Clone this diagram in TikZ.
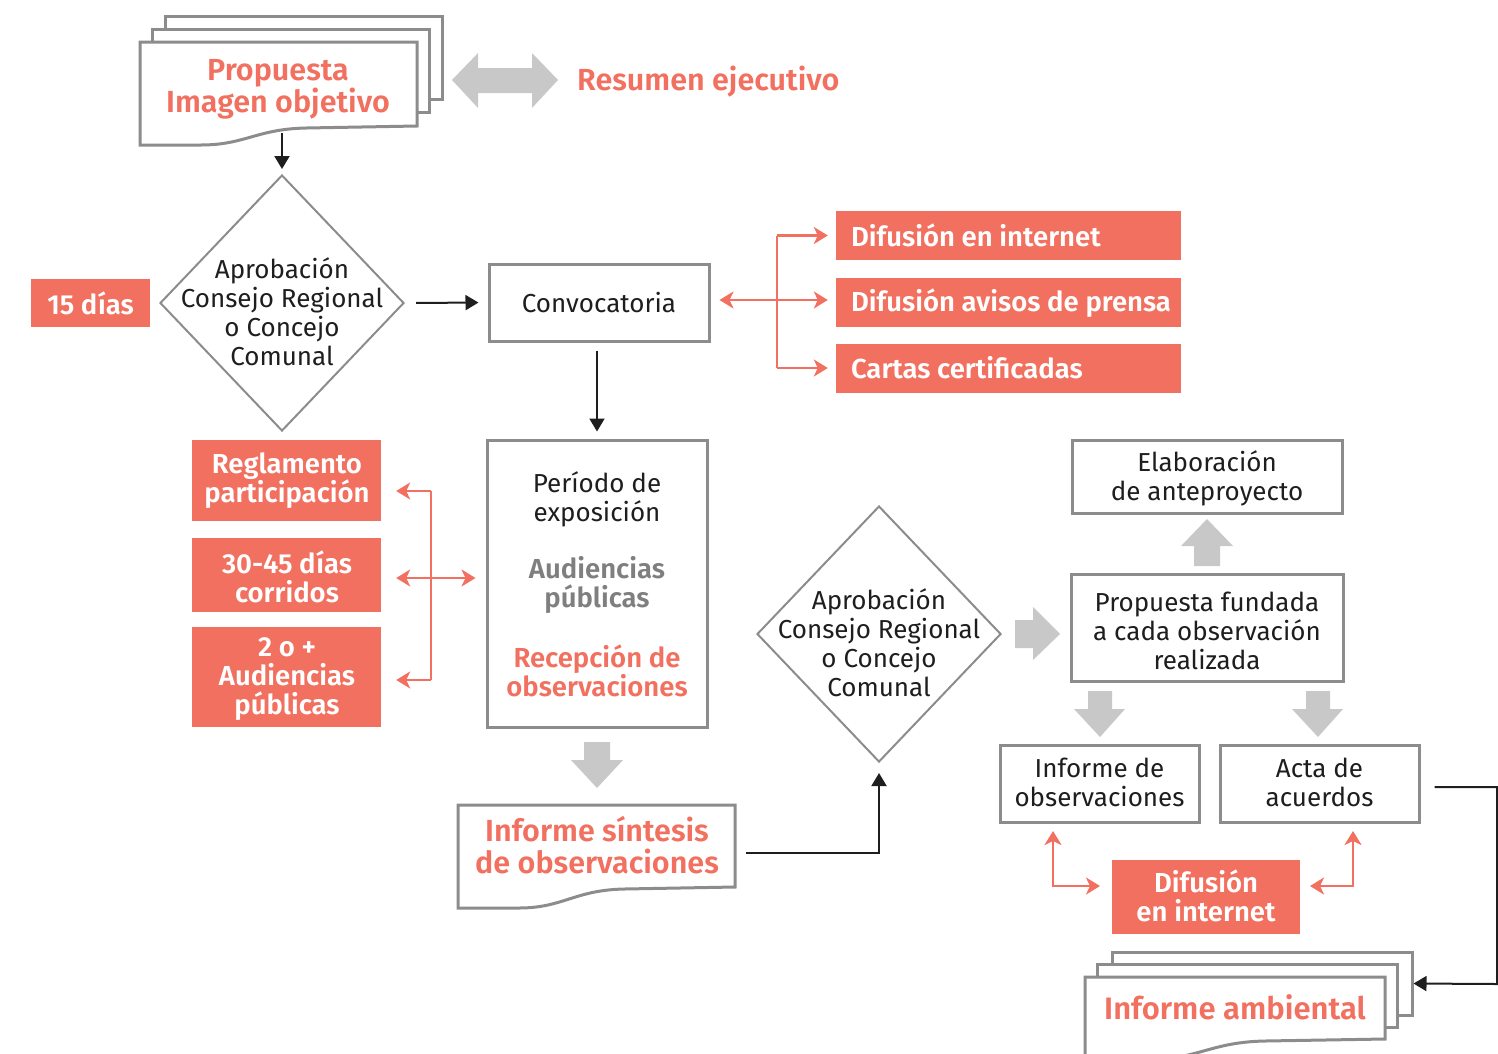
\documentclass[tikz,border=0pt]{standalone}
\usepackage{fontspec}
\setmainfont{Fira Sans}[BoldFont={Fira Sans SemiBold}]
\usetikzlibrary{shapes.geometric,arrows.meta,calc}
\definecolor{sal}{HTML}{F2705F}
\definecolor{bord}{HTML}{8C8C8C}
\definecolor{garr}{HTML}{C8C8C8}
\definecolor{ink}{HTML}{1E1E1E}
\definecolor{gtxt}{HTML}{7F7F7F}
\newcommand{\docshape}[5]{%
  \path[doc] (#1,#2) -- (#1+#3,#2) -- (#1+#3,#2+#4-#5) -- (#1+0.6*#3,#2+#4-#5+2)
    .. controls (#1+0.42*#3,#2+#4-#5+3) and (#1+0.38*#3,#2+#4) .. (#1+0.22*#3,#2+#4)
    -- (#1,#2+#4) -- cycle;}
\begin{document}
\begin{tikzpicture}[x=1pt,y=-1pt,
  bt/.tip={Triangle[length=13pt,width=15pt]},
  rt/.tip={Stealth[length=14pt,width=17pt,inset=4pt]},
  txt/.style={font=\fontsize{26}{29}\selectfont, text=ink, align=center, inner sep=0pt},
  btxt/.style={font=\fontsize{27.5}{29}\selectfont\bfseries, align=center, inner sep=0pt},
  big/.style={font=\fontsize{30.5}{32}\selectfont\bfseries, text=sal, align=center, inner sep=0pt},
  gbox/.style={draw=bord, line width=3pt, fill=white, inner sep=0pt},
  sbox/.style={fill=sal, text=white, inner sep=0pt},
  dia/.style={draw=bord, line width=2pt, fill=white, diamond, minimum width=244pt, minimum height=256pt, inner sep=0pt},
  blk/.style={draw=ink, line width=2pt, -bt},
  rarr/.style={draw=sal, line width=2.5pt, -rt},
  rdarr/.style={draw=sal, line width=2.5pt, rt-rt},
  rline/.style={draw=sal, line width=2.5pt},
  doc/.style={draw=bord, line width=3pt, fill=white, line join=miter},
  gshape/.style={fill=garr},
]
\useasboundingbox (0,0) rectangle (1498,1053);
\clip (0,0) rectangle (1498,1053);

% ---- Propuesta document stack
\node[gbox, minimum width=277pt, minimum height=83pt] (p3) at (303.5,57.5) {};
\node[gbox, minimum width=277pt, minimum height=83pt] (p2) at (290.5,70.5) {};
\docshape{140}{42}{277}{103}{19}
\node[big] (prop) at (278,89) {Propuesta\\Imagen objetivo};
\coordinate (propb) at (282,133);

% gray double arrow
\path[gshape] (452,80) -- (478,53) -- (478,68) -- (532,68) -- (532,53) -- (558,80)
  -- (532,108) -- (532,93) -- (478,93) -- (478,108) -- cycle;
\node[big, anchor=west] (res) at (577,82) {Resumen ejecutivo};

% ---- Diamond 1
\node[dia] (d1) at (282,303) {};
\node[txt] (d1t) at (282,312) {Aprobación\\Consejo Regional\\o Concejo\\Comunal};
\node[sbox, minimum width=119pt, minimum height=48pt, btxt, text=white] (d15) at (90.5,303) {15 días};

% ---- Convocatoria
\node[gbox, minimum width=220pt, minimum height=77pt, txt] (conv) at (599,302.5) {Convocatoria};

% ---- Difusion boxes
\node[sbox, minimum width=345pt, minimum height=49pt] (dif1) at (1008.5,235.5) {};
\node[sbox, minimum width=345pt, minimum height=49pt] (dif2) at (1008.5,302.5) {};
\node[sbox, minimum width=345pt, minimum height=49pt] (dif3) at (1008.5,368) {};
\node[btxt, text=white, anchor=west] at ($(dif1.west)+(15,0)$) {Difusión en internet};
\node[btxt, text=white, anchor=west] at ($(dif2.west)+(15,1)$) {Difusión avisos de prensa};
\node[btxt, text=white, anchor=west] at ($(dif3.west)+(15,0)$) {Cartas certificadas};

% ---- Periodo box
\node[gbox, minimum width=220pt, minimum height=287pt] (per) at (597,583.5) {};
\node[txt] at (597,499) {Período de\\exposición};
\node[btxt, text=gtxt] at (597,585) {Audiencias\\públicas};
\node[btxt, text=sal] at (597,671) {Recepción de\\observaciones};

% ---- Left salmon boxes
\node[sbox, minimum width=189pt, minimum height=81pt] (reg) at (286.5,480.5) {};
\node[btxt, text=white] at (287,481) {Reglamento\\participación};
\node[sbox, minimum width=189pt, minimum height=74pt] (corr) at (286.5,575) {};
\node[btxt, text=white] at (287,577) {30-45 días\\corridos};
\node[sbox, minimum width=189pt, minimum height=100pt] (aud) at (286.5,677) {};
\node[btxt, text=white] at (287,679) {2 o +\\Audiencias\\públicas};

% gray down arrow
\path[gshape] (584,742) -- (610,742) -- (610,760) -- (623,760) -- (597,788) -- (571,760) -- (584,760) -- cycle;

% ---- Informe sintesis
\docshape{458}{805}{277}{103}{21}
\node[big] (sint) at (597,845) {Informe síntesis\\de observaciones};
\coordinate (sinte) at (735,853);

% ---- Diamond 2
\node[dia] (d2) at (879,634) {};
\node[txt] at (879,643) {Aprobación\\Consejo Regional\\o Concejo\\Comunal};

% gray right arrow
\path[gshape] (1015,620) -- (1033,620) -- (1033,607) -- (1060,634) -- (1033,660) -- (1033,648) -- (1015,648) -- cycle;

% ---- right boxes
\node[gbox, minimum width=270pt, minimum height=73pt] (elab) at (1207,476.5) {};
\node[txt] at (1207,478) {Elaboración\\de anteproyecto};
\node[gbox, minimum width=272pt, minimum height=107pt] (fund) at (1207,627.5) {};
\node[txt] at (1207,631) {Propuesta fundada\\a cada observación\\realizada};
\node[gbox, minimum width=199pt, minimum height=77pt] (obs) at (1099.5,783.5) {};
\node[txt] at (1099.5,782) {Informe de\\observaciones};
\node[gbox, minimum width=199pt, minimum height=77pt] (acta) at (1319.5,783.5) {};
\node[txt] at (1319.5,782) {Acta de\\acuerdos};

% gray up arrow
\path[gshape] (1194,566) -- (1220,566) -- (1220,546) -- (1233,546) -- (1207,519) -- (1181,546) -- (1194,546) -- cycle;
% gray down arrows
\path[gshape] (1088,691) -- (1112,691) -- (1112,709) -- (1125,709) -- (1100,737) -- (1074,709) -- (1088,709) -- cycle;
\path[gshape] (1306,691) -- (1330,691) -- (1330,709) -- (1343,709) -- (1318,737) -- (1292,709) -- (1306,709) -- cycle;

% ---- Difusion en internet (bottom)
\node[sbox, minimum width=188pt, minimum height=74pt] (difb) at (1206,897) {};
\node[btxt, text=white] at (1206,896) {Difusión\\en internet};

% ---- Informe ambiental stack
\node[gbox, minimum width=300pt, minimum height=63pt] (amb3) at (1262,983.5) {};
\node[gbox, minimum width=300pt, minimum height=63pt] (amb2) at (1247,995.5) {};
\docshape{1085}{977}{300}{82}{20}
\node[big, font=\fontsize{31}{32}\selectfont\bfseries] (amb) at (1235,1007) {Informe ambiental};

% ---- black connectors
\draw[blk, shorten >=5pt] (propb) -- (d1.north);
\draw[blk, shorten <=11pt, shorten >=9pt] (d1.east) -- (conv.west);
\draw[blk, shorten <=8pt, shorten >=7pt] (per.north |- conv.south) -- (per.north);
\draw[blk, shorten <=11pt, shorten >=10pt] (sinte) -| (d2.south);
\draw[blk, shorten <=14pt] (acta.east |- 0,787) -- (1497,787) -- (1497,984) -- (amb3.east);

% ---- red connectors top
\coordinate (rj) at (777,0);
\draw[rline] (rj |- dif1.west) -- (rj |- dif3.west);
\draw[rarr, shorten >=8pt] (rj |- dif1.west) -- (dif1.west);
\draw[rarr, shorten >=8pt] (rj |- dif3.west) -- (dif3.west);
\draw[rdarr, shorten <=9pt, shorten >=8pt] (conv.east |- 0,300) -- (dif2.west |- 0,300);

% ---- red connectors left
\coordinate (lj) at (431,0);
\draw[rline] (431,491) -- (431,680);
\draw[rarr, shorten >=15pt] (431,491) -- (reg.east |- 0,491);
\draw[rarr, shorten >=15pt] (431,680) -- (aud.east |- 0,680);
\draw[rdarr, shorten <=15pt, shorten >=10pt] (corr.east |- 0,578) -- (per.west |- 0,578);

% ---- red connectors bottom right
\draw[rdarr] (1053,831) |- (1100,886);
\draw[rdarr] (1353,831) |- (1310,886);
\end{tikzpicture}
\end{document}
